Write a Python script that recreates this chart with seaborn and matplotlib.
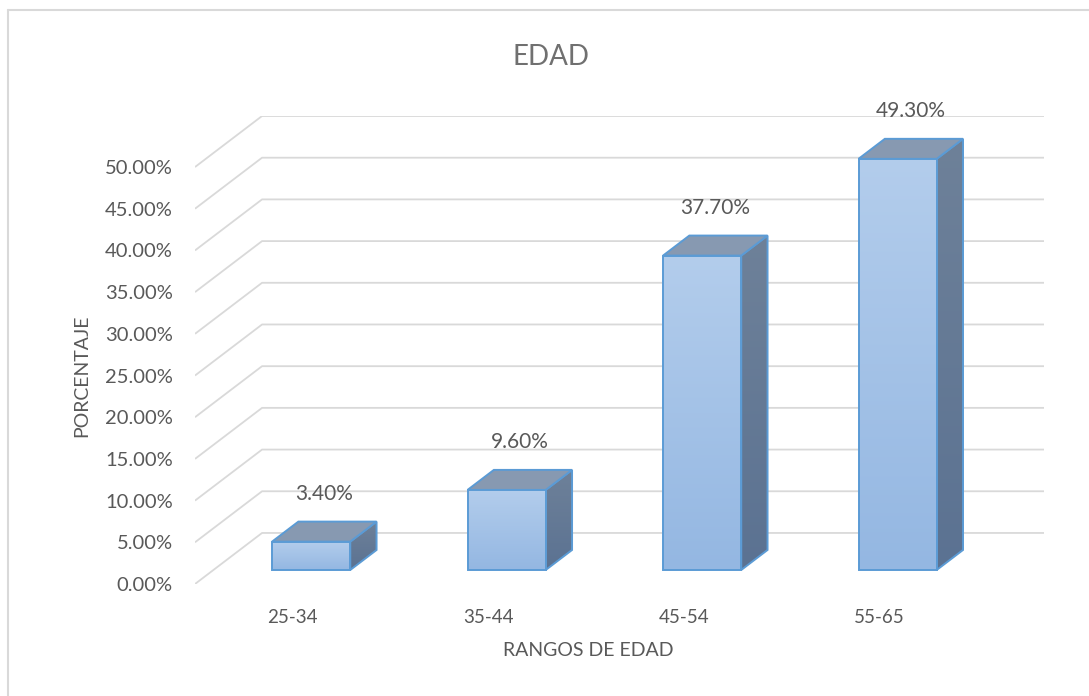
import numpy as np
import matplotlib.pyplot as plt
import seaborn as sns
from matplotlib.patches import Polygon
from matplotlib.colors import LinearSegmentedColormap
from matplotlib.lines import Line2D

categorias = ["25-34", "35-44", "45-54", "55-65"]
porcentajes = [3.4, 9.6, 37.7, 49.3]
etiquetas = ["3.40%", "9.60%", "37.70%", "49.30%"]
ticks_y = [0, 5, 10, 15, 20, 25, 30, 35, 40, 45, 50]

sns.set_theme(style="white")
plt.rcParams["font.family"] = ["Lato", "DejaVu Sans"]

GRIS = "#595959"
GRID = "#d9d9d9"
BORDE = "#5b9bd5"

# fake 3d: depth offsets in data units (front plane = depth 0, back wall = depth 1)
DX, DY = 0.343, 6.12
Z0, Z1 = 0.275, 0.667
ANCHO = 0.4

fig = plt.figure(figsize=(10.89, 6.96), dpi=100)
W, H = 1089, 696
ax = fig.add_axes([195 / W, (H - 584) / H, 849 / W, 468 / H])

sns.barplot(x=categorias, y=porcentajes, width=ANCHO, ax=ax, color="#a6c4e8")

xmin, xmax = -0.5, 3.5 + DX
ymax = ticks_y[-1] + DY

# back wall + left wall gridlines
for v in ticks_y:
    ax.plot([xmin, xmin + DX, xmax], [v, v + DY, v + DY], color=GRID, lw=1.3,
            zorder=0.5, solid_capstyle="butt")

cmap_front = LinearSegmentedColormap.from_list("front", ["#94b7e2", "#b3cdec"])
cmap_side = LinearSegmentedColormap.from_list("side", ["#5b7292", "#6e8199"])
grad = np.linspace(0, 1, 256).reshape(-1, 1)

dxb, dyb = (Z1 - Z0) * DX, (Z1 - Z0) * DY
for bar, val, lab in zip(ax.patches, porcentajes, etiquetas):
    x0 = bar.get_x() + Z0 * DX
    y0 = Z0 * DY
    w = bar.get_width()
    h = bar.get_height()
    bar.set_x(x0)
    bar.set_y(y0)
    bar.set_facecolor("none")
    bar.set_edgecolor(BORDE)
    bar.set_linewidth(1.4)
    bar.set_zorder(3)
    x1, y1 = x0 + w, y0 + h

    side = Polygon([(x1, y0), (x1 + dxb, y0 + dyb), (x1 + dxb, y1 + dyb), (x1, y1)],
                   closed=True, facecolor="none", edgecolor=BORDE, lw=1.4, zorder=2.5)
    ax.add_patch(side)
    im = ax.imshow(grad, extent=[x1, x1 + dxb, y0, y1 + dyb], origin="lower",
                   cmap=cmap_side, aspect="auto", zorder=2, interpolation="bilinear")
    im.set_clip_path(side)

    top = Polygon([(x0, y1), (x1, y1), (x1 + dxb, y1 + dyb), (x0 + dxb, y1 + dyb)],
                  closed=True, facecolor="#8799b1", edgecolor=BORDE, lw=1.4, zorder=2.5)
    ax.add_patch(top)

    im = ax.imshow(grad, extent=[x0, x1, y0, y1], origin="lower",
                   cmap=cmap_front, aspect="auto", zorder=2.8, interpolation="bilinear")
    im.set_clip_path(bar)

    ax.annotate(lab, (x0 + w / 2 + dxb / 2, y1 + dyb / 2), xytext=(0, 27),
                textcoords="offset points", ha="center", va="center",
                fontsize=15, color=GRIS)

ax.set_xlim(xmin, xmax)
ax.set_ylim(0, ymax)
ax.set_yticks(ticks_y)
ax.set_yticklabels([f"{v:.2f}%" for v in ticks_y])
ax.set_xticks(range(len(categorias)))
ax.set_xticklabels(categorias)
ax.tick_params(axis="y", length=0, pad=16, labelsize=14.5, labelcolor=GRIS)
ax.tick_params(axis="x", length=0, pad=18, labelsize=13.5, labelcolor=GRIS)
sns.despine(ax=ax, left=True, bottom=True)
ax.grid(False)

ax.set_ylabel("PORCENTAJE", fontsize=14, color=GRIS)
ax.yaxis.set_label_coords((90 - 195) / 849, (584 - 376) / 468)
ax.set_xlabel("RANGOS DE EDAD", fontsize=14, color=GRIS)
ax.xaxis.set_label_coords((588 - 195) / 849, (584 - 642) / 468)

fig.text(551 / W, 1 - 57 / H, "EDAD", ha="center", va="center", fontsize=20, color="#707070")

# chart frame
fig.add_artist(Line2D([8 / W, 8 / W], [0, 1 - 10 / H], color=GRID, lw=1.5))
fig.add_artist(Line2D([8 / W, 1], [1 - 10 / H, 1 - 10 / H], color=GRID, lw=1.5))

fig.savefig("out.png", dpi=100)
